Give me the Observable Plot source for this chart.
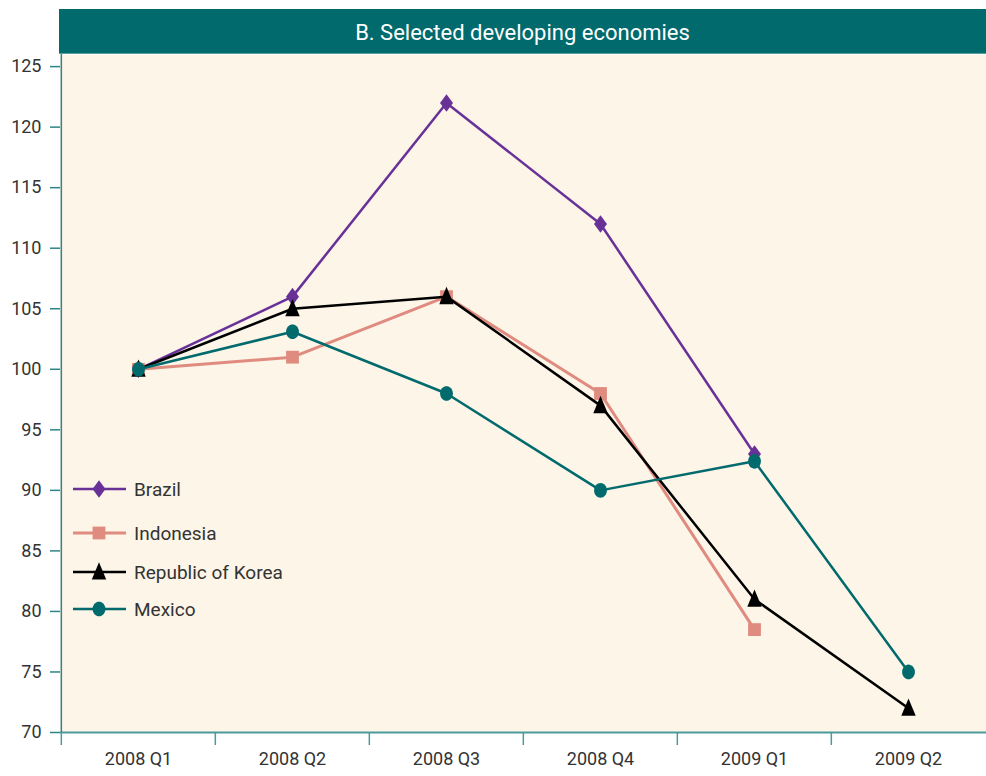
<!DOCTYPE html>
<html>
<head>
<meta charset="utf-8">
<script src="https://cdn.jsdelivr.net/npm/d3@7"></script>
<script src="https://cdn.jsdelivr.net/npm/@observablehq/plot@0.6"></script>
<style>
  html, body { margin: 0; padding: 0; background: #ffffff; }
  #wrap { position: relative; width: 986px; height: 776px; font-family: Roboto, "Open Sans", sans-serif; }
  #title { position: absolute; left: 59px; top: 9px; width: 927px; height: 44px; background: #006a6d;
           border-bottom: 1px solid #5a9fa0; color: #ffffff; font-size: 22px; line-height: 47px; text-align: center; }
  #legend { position: absolute; left: 0; top: 0; pointer-events: none; }
</style>
</head>
<body>
<div id="wrap"><div id="chart"></div><div id="title">B. Selected developing economies</div><svg id="legend" width="986" height="776"></svg></div>
<script>
const quarters = ["2008 Q1", "2008 Q2", "2008 Q3", "2008 Q4", "2009 Q1", "2009 Q2"];
const brazil    = [100, 106, 122, 112, 93];
const indonesia = [100, 101, 106, 98, 78.5];
const korea     = [100, 105, 106, 97, 81, 72];
const mexico    = [100, 103.1, 98, 90, 92.4, 75];
const seriesNames = ["Brazil", "Indonesia", "Republic of Korea", "Mexico"];
const yTicks = [70, 75, 80, 85, 90, 95, 100, 105, 110, 115, 120, 125];

const polySymbol = (pts) => ({
  draw(ctx, size) {
    const r = Math.sqrt(size / Math.PI);
    ctx.moveTo(pts[0][0] * r, pts[0][1] * r);
    for (let i = 1; i < pts.length; ++i) ctx.lineTo(pts[i][0] * r, pts[i][1] * r);
    ctx.closePath();
  }
});
const ellipsePts = d3.range(32).map(i => [Math.cos(i / 32 * 2 * Math.PI), 1.15 * Math.sin(i / 32 * 2 * Math.PI)]);
const styles = [
  {color: "#683198", symbol: polySymbol([[0, -1.35], [1, 0], [0, 1.35], [-1, 0]]), r: 6.5, sw: 2.5},
  {color: "#e08b7f", symbol: polySymbol([[-1, -1], [1, -1], [1, 1], [-1, 1]]), r: 6.4, sw: 3},
  {color: "#000000", symbol: polySymbol([[0, -1.2], [-0.88, 0.92], [0.88, 0.92]]), r: 8.2, sw: 2.5},
  {color: "#006a6d", symbol: polySymbol(ellipsePts), r: 6.4, sw: 2.5}
];

const seriesValues = [brazil, indonesia, korea, mexico];
const rows = seriesNames.map((name, s) =>
  seriesValues[s].map((v, i) => ({series: name, quarter: quarters[i], value: v})));

const W = 986, H = 776, mL = 60, mR = 0, mT = 54, mB = 44;
const half = (W - mL - mR) / quarters.length / 2;
const axisTeal = "#2f8487";

const marks = [
  Plot.frame({fill: "#fcf5e8", stroke: null}),
  Plot.ruleY([70], {stroke: "#4b9a9c", strokeWidth: 2}),
  Plot.ruleX([quarters[0]], {dx: -half, stroke: axisTeal, strokeWidth: 1.5}),
  Plot.axisY({ticks: yTicks, tickSize: 10, tickFormat: () => "", stroke: axisTeal, strokeWidth: 1.5}),
  Plot.axisY({ticks: yTicks, tickSize: 0, tickPadding: 19, fontSize: 18, fill: "#333333"}),
  Plot.axisX({tickSize: 13, tickFormat: () => "", dx: -half, stroke: "#4b9a9c", strokeWidth: 1.5}),
  Plot.axisX({tickSize: 0, tickPadding: 20, fontSize: 18, fill: "#333333"})
];
rows.forEach((data, s) => {
  const st = styles[s];
  marks.push(Plot.line(data, {x: "quarter", y: "value", stroke: st.color, strokeWidth: st.sw}));
  marks.push(Plot.dot(data, {x: "quarter", y: "value", symbol: st.symbol, r: st.r, fill: st.color, stroke: "none"}));
});

const chart = Plot.plot({
  width: W, height: H,
  marginLeft: mL, marginRight: mR, marginTop: mT, marginBottom: mB,
  style: {fontFamily: "Roboto, 'Open Sans', sans-serif", background: "transparent", color: "#333333"},
  x: {type: "band", domain: quarters, padding: 0, label: null},
  y: {domain: [70, 126], label: null},
  marks
});
document.getElementById("chart").appendChild(chart);

// Legend
const legend = d3.select("#legend");
const legendY = [489, 533, 572, 609];
seriesNames.forEach((name, s) => {
  const st = styles[s];
  const g = legend.append("g").attr("transform", `translate(0,${legendY[s]})`);
  g.append("line").attr("x1", 73).attr("x2", 126).attr("y1", 0).attr("y2", 0)
    .attr("stroke", st.color).attr("stroke-width", st.sw);
  g.append("path").attr("transform", "translate(99,0)")
    .attr("d", d3.symbol().type(st.symbol).size(Math.PI * st.r * st.r)())
    .attr("fill", st.color);
  g.append("text").attr("x", 134).attr("y", 0).attr("dy", "0.35em")
    .attr("font-size", 19).attr("font-family", "Roboto, 'Open Sans', sans-serif")
    .attr("fill", "#333333").text(name);
});
</script>
</body>
</html>
